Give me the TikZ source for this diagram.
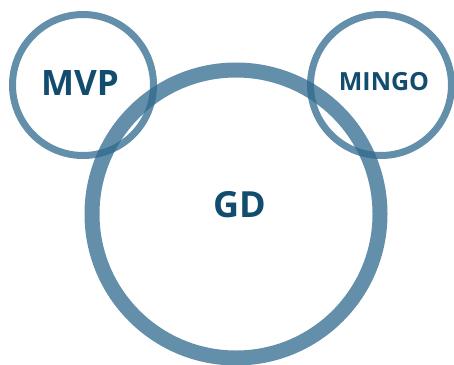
\documentclass[tikz,border=0pt]{standalone}
\usepackage{fontspec}
\setmainfont{Open Sans}
\definecolor{ringblue}{HTML}{2F6A8E}
\definecolor{labelblue}{HTML}{124D70}
\tikzset{
  ring node/.style={
    circle,
    draw=ringblue,
    draw opacity=.75,
    inner sep=0pt,
  },
  ring label/.style={
    text=labelblue,
    font=\bfseries,
    inner sep=0pt,
  },
}

\begin{document}
\begin{tikzpicture}[x=1pt, y=-1pt]
        \useasboundingbox (0,0) rectangle (454,364);

        \node[ring node, line width=15pt, minimum size=288pt] (gd)    at (236,214) {};
        \node[ring node, line width=7pt,  minimum size=141pt] (mvp)   at ( 83, 85) {};
        \node[ring node, line width=7pt,  minimum size=141pt] (mingo) at (381, 85) {};

        \node[ring label, font=\bfseries\fontsize{36}{36}\selectfont] (gd text)    at (240,205) {GD};
        \node[ring label, font=\bfseries\fontsize{35}{35}\selectfont] (mvp text)   at ( 80, 83) {MVP};
        \node[ring label, font=\bfseries\fontsize{25}{25}\selectfont] (mingo text) at (384, 82) {MINGO};
      \end{tikzpicture}
\end{document}
